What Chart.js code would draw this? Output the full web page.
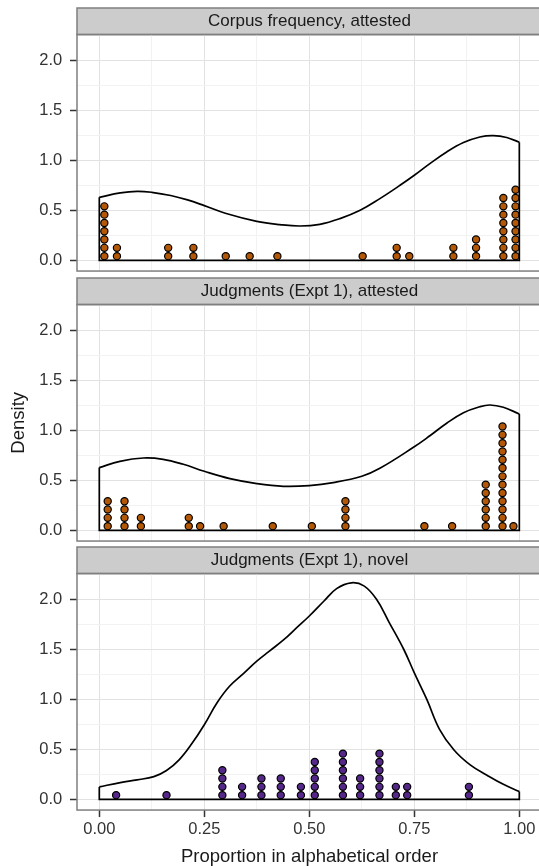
<!DOCTYPE html>
<html>
<head>
<meta charset="utf-8">
<script src="https://cdn.jsdelivr.net/npm/chart.js@4.4.1/dist/chart.umd.min.js"></script>
<style>
html, body { margin: 0; padding: 0; background: #ffffff; overflow: hidden; width: 539px; height: 866px; }
.panel { position: absolute; left: 0; }
canvas { display: block; }
</style>
</head>
<body>
<div class="panel" style="top:0px"><canvas id="c1" width="542" height="272"></canvas></div>
<div class="panel" style="top:270px"><canvas id="c2" width="542" height="272"></canvas></div>
<div class="panel" style="top:539px"><canvas id="c3" width="542" height="329"></canvas></div>
<script>
// ---------- data ----------
const panelTitles = ["Corpus frequency, attested", "Judgments (Expt 1), attested", "Judgments (Expt 1), novel"];
const xAxisTitle = "Proportion in alphabetical order";
const yAxisTitle = "Density";
const xTickLabels = ["0.00", "0.25", "0.50", "0.75", "1.00"];
const xTickValues = [0, 0.25, 0.5, 0.75, 1];
const yTickLabels = ["0.0", "0.5", "1.0", "1.5", "2.0"];
const yTickValues = [0, 0.5, 1, 1.5, 2];
const xMinorValues = [0.125, 0.375, 0.625, 0.875];
const yMinorValues = [0.25, 0.75, 1.25, 1.75];

// dot-plot bins: centre of each stack and number of dots in it
const corpusBinX = [0.012, 0.042, 0.164, 0.224, 0.301, 0.358, 0.424, 0.627, 0.708, 0.738, 0.843, 0.897, 0.962, 0.991];
const corpusBinN = [7, 2, 2, 2, 1, 1, 1, 1, 2, 1, 2, 3, 8, 9];
const attestedBinX = [0.020, 0.060, 0.099, 0.213, 0.240, 0.296, 0.413, 0.506, 0.586, 0.774, 0.840, 0.920, 0.960, 0.986];
const attestedBinN = [4, 4, 2, 2, 1, 1, 1, 1, 4, 1, 1, 6, 13, 1];
const novelBinX = [0.040, 0.160, 0.293, 0.340, 0.386, 0.432, 0.480, 0.513, 0.580, 0.621, 0.667, 0.706, 0.733, 0.880];
const novelBinN = [1, 1, 4, 2, 3, 3, 2, 5, 6, 3, 6, 2, 2, 2];

// kernel density curves
const corpusDensX = [0, 0.05, 0.09, 0.125, 0.17, 0.21, 0.25, 0.30, 0.375, 0.43, 0.478, 0.525, 0.573, 0.621, 0.668, 0.716, 0.75, 0.787, 0.827, 0.867, 0.906, 0.938, 0.97, 1.0];
const corpusDensY = [0.630, 0.674, 0.690, 0.680, 0.648, 0.604, 0.547, 0.471, 0.390, 0.357, 0.343, 0.360, 0.417, 0.500, 0.617, 0.750, 0.850, 0.967, 1.083, 1.177, 1.233, 1.247, 1.228, 1.180];
const attestedDensX = [0, 0.049, 0.105, 0.152, 0.20, 0.25, 0.311, 0.375, 0.438, 0.50, 0.557, 0.625, 0.668, 0.748, 0.787, 0.827, 0.867, 0.906, 0.93, 0.962, 1.0];
const attestedDensY = [0.627, 0.690, 0.723, 0.710, 0.660, 0.590, 0.517, 0.467, 0.440, 0.447, 0.477, 0.540, 0.620, 0.830, 0.945, 1.070, 1.176, 1.236, 1.253, 1.230, 1.163];
const novelDensX = [0, 0.05, 0.09, 0.13, 0.16, 0.19, 0.22, 0.25, 0.28, 0.31, 0.345, 0.375, 0.405, 0.44, 0.47, 0.50, 0.535, 0.565, 0.60, 0.63, 0.66, 0.69, 0.725, 0.75, 0.78, 0.81, 0.845, 0.883, 0.922, 0.962, 1.0];
const novelDensY = [0.124, 0.167, 0.194, 0.227, 0.288, 0.395, 0.555, 0.746, 0.963, 1.130, 1.264, 1.381, 1.482, 1.599, 1.716, 1.833, 1.983, 2.107, 2.165, 2.134, 2.000, 1.770, 1.498, 1.264, 0.997, 0.700, 0.490, 0.344, 0.244, 0.150, 0.077];

// ---------- styling / scale settings ----------
const X_MIN = -0.0531, X_MAX = 1.0540;
const Y_MIN = -0.1075, Y_MAX = 2.2575;
const DOT_STEP = 0.083;          // stack height of one dot, in density units
const ORANGE = '#B35806';
const PURPLE = '#542788';

Chart.defaults.font.family = '"Liberation Sans", Arial, Helvetica, sans-serif';
Chart.defaults.color = '#333333';

const isOn = (v, list) => list.some(t => Math.abs(t - v) < 1e-6);

const panelFrame = {
  id: 'panelFrame',
  beforeDraw(chart, args, opts) {
    const { ctx, chartArea: a } = chart;
    ctx.save();
    const top = opts.stripTop;
    ctx.fillStyle = '#CCCCCC';
    ctx.fillRect(a.left, top, a.right - a.left + 4, a.top - top);
    ctx.strokeStyle = '#7F7F7F';
    ctx.lineWidth = 1.5;
    ctx.strokeRect(a.left, top, a.right - a.left + 4, a.top - top);
    ctx.fillStyle = '#1A1A1A';
    ctx.font = '17px "Liberation Sans", Arial, Helvetica, sans-serif';
    ctx.textAlign = 'center';
    ctx.textBaseline = 'middle';
    ctx.fillText(opts.text, (a.left + a.right) / 2, (top + a.top) / 2 + 0.5);
    ctx.restore();
  },
  afterDraw(chart) {
    const { ctx, chartArea: a } = chart;
    ctx.save();
    ctx.strokeStyle = '#7F7F7F';
    ctx.lineWidth = 1.5;
    ctx.strokeRect(a.left, a.top, a.right - a.left + 4, a.bottom - a.top);
    ctx.restore();
  }
};

function makeChart(id, idx, binX, binN, densX, densY, color, bottomAxis, leftTitle) {
  const dots = [];
  binX.forEach((x, i) => {
    for (let k = 0; k < binN[i]; k++) dots.push({ x: x, y: (k + 0.5) * DOT_STEP });
  });
  const curve = densX.map((x, i) => ({ x: x, y: densY[i] }));
  const last = densX.length - 1;
  const outline = [
    { x: densX[0], y: densY[0] },
    { x: densX[0], y: 0 },
    { x: densX[last], y: 0 },
    { x: densX[last], y: densY[last] }
  ];
  const canvas = document.getElementById(id);
  const H = canvas.height;
  return new Chart(canvas, {
    type: 'scatter',
    data: {
      datasets: [
        { data: curve, showLine: true, tension: 0.4, pointRadius: 0, borderColor: '#000000', borderWidth: 1.7, fill: false },
        { data: outline, showLine: true, tension: 0, pointRadius: 0, borderColor: '#000000', borderWidth: 1.7, fill: false },
        { data: dots, showLine: false, pointRadius: 3.6, pointHoverRadius: 3.6, pointBackgroundColor: color, pointBorderColor: '#000000', pointBorderWidth: 1.2 }
      ]
    },
    options: {
      responsive: false,
      animation: false,
      events: [],
      layout: { autoPadding: false, padding: { top: 34.55, bottom: bottomAxis ? 0 : 0.95, left: 0, right: 0 } },
      plugins: {
        legend: { display: false },
        tooltip: { enabled: false },
        panelFrame: { text: panelTitles[idx], stripTop: 8 }
      },
      scales: {
        x: {
          type: 'linear',
          min: X_MIN, max: X_MAX,
          afterBuildTicks: s => { s.ticks = xTickValues.concat(xMinorValues).sort((a, b) => a - b).map(v => ({ value: v })); },
          afterFit: s => { s.height = bottomAxis ? (H - 271.05) : 0; s.paddingLeft = 0; s.paddingRight = 0; },
          border: { display: false },
          grid: {
            color: c => isOn(c.tick.value, xTickValues) ? '#E2E2E2' : '#F2F2F2',
            lineWidth: 1,
            drawTicks: bottomAxis,
            tickLength: 7,
            tickWidth: 1.5,
            tickColor: c => isOn(c.tick.value, xTickValues) ? '#333333' : 'rgba(0,0,0,0)'
          },
          ticks: {
            display: bottomAxis,
            autoSkip: false,
            maxRotation: 0,
            padding: 3,
            color: '#333333',
            font: { size: 16.5 },
            callback: v => { const i = xTickValues.findIndex(t => Math.abs(t - v) < 1e-6); return i >= 0 ? xTickLabels[i] : ''; }
          },
          title: {
            display: bottomAxis,
            text: xAxisTitle,
            color: '#1A1A1A',
            font: { size: 18.5 },
            padding: { top: 0, bottom: 0 }
          }
        },
        y: {
          type: 'linear',
          min: Y_MIN, max: Y_MAX,
          afterBuildTicks: s => { s.ticks = yTickValues.concat(yMinorValues).sort((a, b) => a - b).map(v => ({ value: v })); },
          afterFit: s => { s.width = 77; s.paddingTop = 0; s.paddingBottom = 0; },
          border: { display: false },
          grid: {
            color: c => isOn(c.tick.value, yTickValues) ? '#E2E2E2' : '#F2F2F2',
            lineWidth: 1,
            drawTicks: true,
            tickLength: 7,
            tickWidth: 1.5,
            tickColor: c => isOn(c.tick.value, yTickValues) ? '#333333' : 'rgba(0,0,0,0)'
          },
          ticks: {
            autoSkip: false,
            padding: 7.7,
            color: '#333333',
            font: { size: 16.5 },
            callback: v => { const i = yTickValues.findIndex(t => Math.abs(t - v) < 1e-6); return i >= 0 ? yTickLabels[i] : ''; }
          },
          title: {
            display: leftTitle,
            text: yAxisTitle,
            color: '#1A1A1A',
            font: { size: 18.5 },
            padding: { top: 8, bottom: 0 }
          }
        }
      }
    },
    plugins: [panelFrame]
  });
}

makeChart('c1', 0, corpusBinX, corpusBinN, corpusDensX, corpusDensY, ORANGE, false, false);
makeChart('c2', 1, attestedBinX, attestedBinN, attestedDensX, attestedDensY, ORANGE, false, true);
makeChart('c3', 2, novelBinX, novelBinN, novelDensX, novelDensY, PURPLE, true, false);
</script>
</body>
</html>
